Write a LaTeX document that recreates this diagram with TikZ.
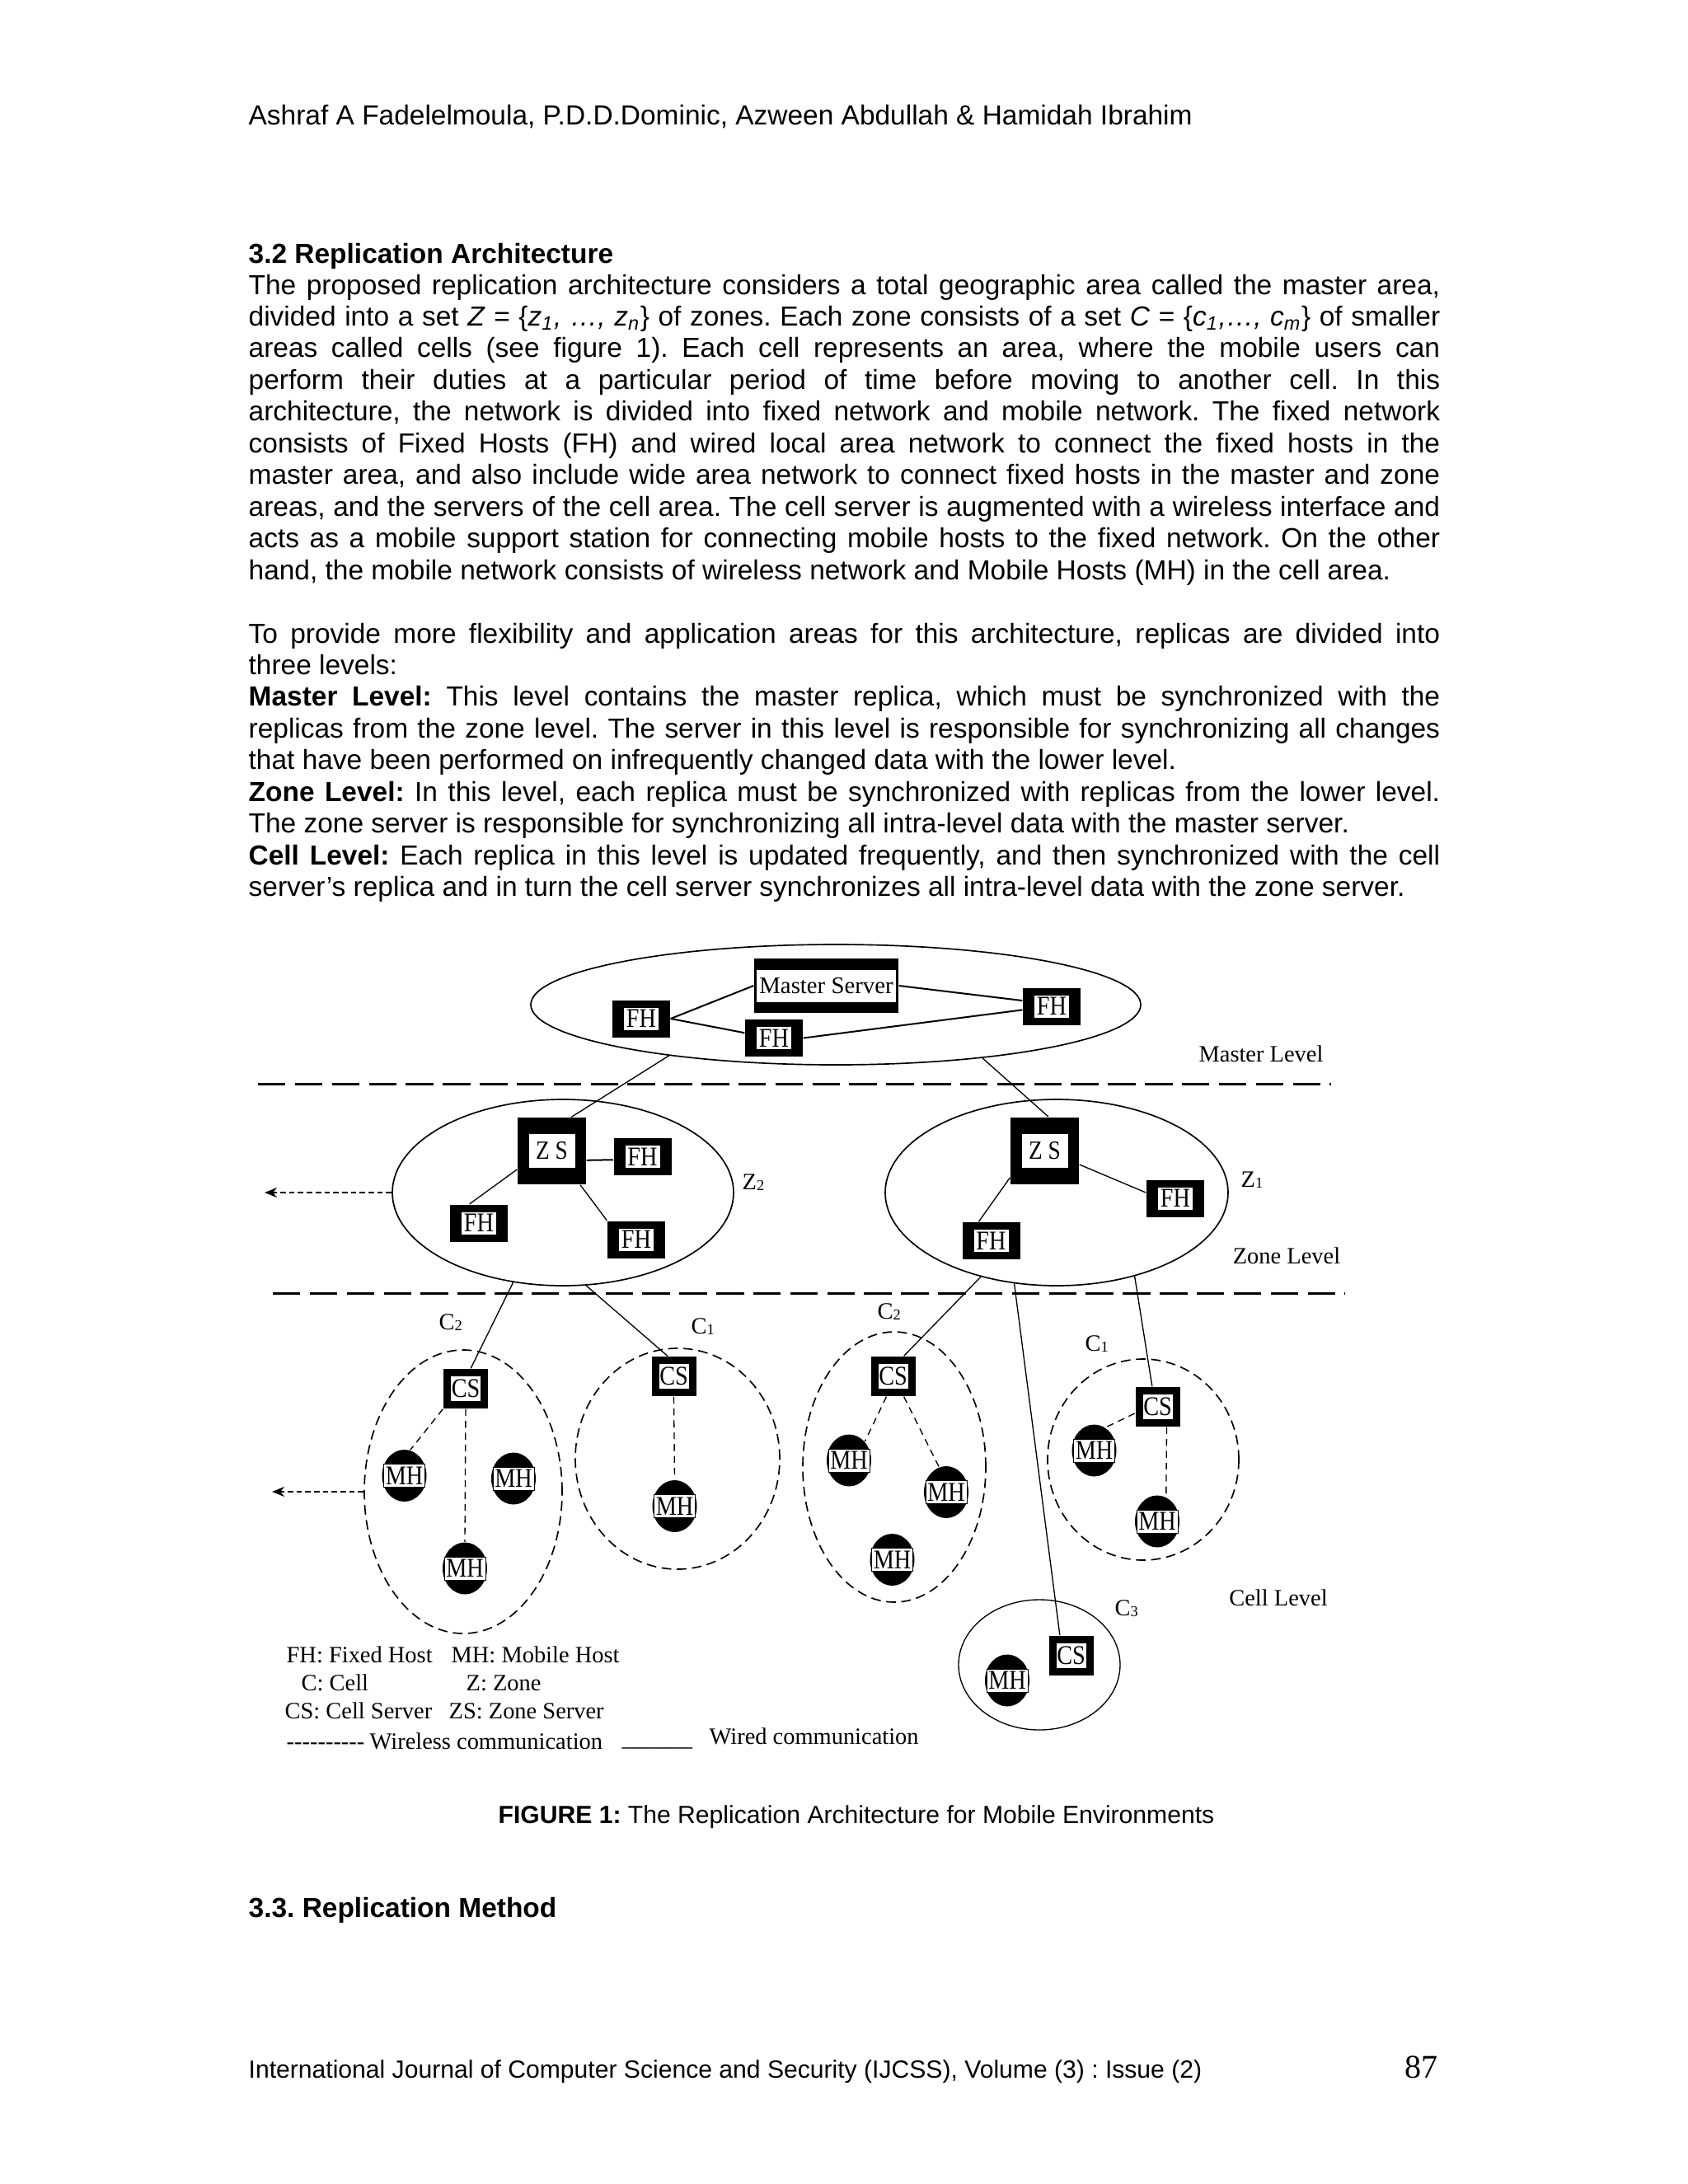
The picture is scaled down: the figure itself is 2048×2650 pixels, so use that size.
\documentclass[tikz,border=0pt]{standalone}
\usepackage{fontspec}
\usepackage{graphicx}
\setmainfont{Liberation Sans}
\newfontfamily\serifdiag{Liberation Serif}
\usetikzlibrary{shapes.geometric,arrows.meta}
\frenchspacing
\newcommand\pxu{0.29884pt}
\newcommand\cnd[1]{\scalebox{0.86}[1]{#1}}
\newcommand\sbs[1]{\raisebox{-0.5pt}{\fontsize{5.5}{6}\selectfont #1}}
\newcommand\bodyset{\fontsize{10}{11.5}\selectfont\frenchspacing\setlength{\parindent}{0pt}\setlength{\parskip}{0pt}\tolerance=10000\hbadness=10000\hyphenpenalty=10000\exhyphenpenalty=10000}
\newcommand\mkFH[3]{\node[blk={70}{45}] (#1) at (#2,#3) {}; \node[wht={42}{27}] (#1-in) at (#1) {\cnd{FH}};}
\newcommand\mkCS[3]{\node[blk={54}{48}] (#1) at (#2,#3) {}; \node[wht={36}{30}] (#1-in) at (#1) {\cnd{CS}};}
\newcommand\mkZS[3]{\node[blk={83}{81}] (#1) at (#2,#3) {}; \node[wht={56}{41}, font=\serifdiag\fontsize{9.5}{10}\selectfont] (#1-in) at (#1) {\cnd{Z S}};}
\newcommand\mkMH[3]{\node[mhout] (#1) at (#2,#3) {}; \node[mhin] (#1-in) at (#1) {\cnd{MH}};}
\tikzset{
  blk/.style 2 args={rectangle, fill=black, draw=none, inner sep=0pt, minimum width=#1*\pxu, minimum height=#2*\pxu},
  wht/.style 2 args={rectangle, fill=white, draw=none, inner sep=0pt, minimum width=#1*\pxu, minimum height=#2*\pxu, font=\serifdiag\fontsize{9.8}{10}\selectfont},
  mhout/.style={ellipse, fill=black, draw=none, inner sep=0pt, minimum width=54*\pxu, minimum height=63*\pxu},
  mhin/.style={rectangle, fill=white, draw=black, line width=0.3pt, inner sep=0pt, minimum width=50*\pxu, minimum height=28*\pxu, font=\serifdiag\fontsize{9.8}{10}\selectfont},
  zone/.style={ellipse, draw=black, line width=0.5pt, inner sep=0pt},
  cell/.style={ellipse, draw=black, line width=0.5pt, dash pattern=on 3.5pt off 2pt, inner sep=0pt},
  wired/.style={line width=0.4pt},
  wiredm/.style={line width=0.6pt},
  wireless/.style={line width=0.4pt, dash pattern=on 2.5pt off 1.8pt},
  levelline/.style={line width=0.9pt, dash pattern=on 10pt off 3.4pt},
  outarrow/.style={-{Stealth[length=4.5pt,width=3.6pt]}, line width=0.6pt, dash pattern=on 2pt off 1.2pt},
  lbl/.style={font=\serifdiag\fontsize{8.5}{9}\selectfont, inner sep=0pt, anchor=base west},
  txt/.style={font=\fontsize{10}{11.5}\selectfont, inner sep=0pt, anchor=base west}
}
\begin{document}
\begin{tikzpicture}[x=0.29884pt, y=-0.29884pt]
\useasboundingbox (0,0) rectangle (2048,2650);
\fill[white] (0,0) rectangle (2048,2650);

% ---------- page text ----------
\node[txt] (hdr) at (301,151) {Ashraf A Fadelelmoula, P.D.D.Dominic, Azween Abdullah \& Hamidah Ibrahim};
\node[txt] (sec) at (301,319) {\bfseries 3.2 Replication Architecture};
\node[anchor=base west, inner sep=0pt] (p1) at (301,357) {\begin{minipage}[t]{432pt}\bodyset
The proposed replication architecture considers a total geographic area called the master area,\linebreak
divided into a set \textit{Z} = \{\textit{z}\textsubscript{\textit{1}}\textit{, …, z}\textsubscript{\textit{n}}\} of zones. Each zone consists of a set \textit{C} = \{\textit{c}\textsubscript{\textit{1}}\textit{,…, c}\textsubscript{\textit{m}}\} of smaller\linebreak
areas called cells (see figure 1). Each cell represents an area, where the mobile users can\linebreak
perform their duties at a particular period of time before moving to another cell. In this\linebreak
architecture, the network is divided into fixed network and mobile network. The fixed network\linebreak
consists of Fixed Hosts (FH) and wired local area network to connect the fixed hosts in the\linebreak
master area, and also include wide area network to connect fixed hosts in the master and zone\linebreak
areas, and the servers of the cell area. The cell server is augmented with a wireless interface and\linebreak
acts as a mobile support station for connecting mobile hosts to the fixed network. On the other\linebreak
hand, the mobile network consists of wireless network and Mobile Hosts (MH) in the cell area.\par
\end{minipage}};
\node[anchor=base west, inner sep=0pt] (p2) at (301,780) {\begin{minipage}[t]{432pt}\bodyset
To provide more flexibility and application areas for this architecture, replicas are divided into\linebreak
three levels:\par
\textbf{Master Level:} This level contains the master replica, which must be synchronized with the\linebreak
replicas from the zone level. The server in this level is responsible for synchronizing all changes\linebreak
that have been performed on infrequently changed data with the lower level.\par
\textbf{Zone Level:} In this level, each replica must be synchronized with replicas from the lower level.\linebreak
The zone server is responsible for synchronizing all intra-level data with the master server.\par
\textbf{Cell Level:} Each replica in this level is updated frequently, and then synchronized with the cell\linebreak
server’s replica and in turn the cell server synchronizes all intra-level data with the zone server.\par
\end{minipage}};
\node[anchor=base, inner sep=0pt, font=\fontsize{9}{10}\selectfont] (cap) at (1039,2212) {\textbf{FIGURE 1:} The Replication Architecture for Mobile Environments};
\node[txt] (sec2) at (301,2326) {\bfseries 3.3. Replication Method};
\node[txt, font=\fontsize{9}{10}\selectfont] (foot) at (301,2521) {International Journal of Computer Science and Security (IJCSS), Volume (3) : Issue (2)};
\node[anchor=base east, inner sep=0pt, font=\serifdiag\fontsize{12}{13}\selectfont] (pg) at (1745,2521) {87};

% ---------- ellipses ----------
\node[zone, minimum width=740*\pxu, minimum height=146*\pxu] (mst) at (1014,1219) {};
\node[zone, minimum width=414*\pxu, minimum height=226*\pxu] (z2) at (683,1447) {};
\node[zone, minimum width=416*\pxu, minimum height=226*\pxu] (z1) at (1282,1447) {};
\node[cell, minimum width=240*\pxu, minimum height=344*\pxu] (ce1) at (562,1810) {};
\node[cell, minimum width=248*\pxu, minimum height=268*\pxu] (ce2) at (822,1770) {};
\node[cell, minimum width=222*\pxu, minimum height=328*\pxu] (ce3) at (1085,1780) {};
\node[cell, minimum width=232*\pxu, minimum height=244*\pxu] (ce4) at (1387,1771) {};
\node[zone, line width=0.4pt, minimum width=196*\pxu, minimum height=158*\pxu] (ce5) at (1261,2020) {};

% ---------- master level ----------
\node[blk={175}{66}] (ms) at (1002.5,1196) {};
\node[wht={169}{39}, font=\serifdiag\fontsize{8.6}{10}\selectfont] (ms-in) at (ms) {Master Server};
\mkFH{mfa}{778}{1236}
\mkFH{mfb}{939}{1259.5}
\mkFH{mfc}{1276}{1221}

% ---------- zone level ----------
\mkZS{zs2}{669.5}{1396.5}
\mkZS{zs1}{1267.5}{1396}
\mkFH{zfa}{779.5}{1403.5}
\mkFH{zfb}{581}{1484}
\mkFH{zfc}{772}{1504}
\mkFH{zfd}{1426}{1454}
\mkFH{zfe}{1202.5}{1505.5}

% ---------- cell level ----------
\mkCS{cs1}{565}{1685}
\mkCS{cs2}{817.5}{1670}
\mkCS{cs3}{1083.5}{1670}
\mkCS{cs4}{1404.5}{1707}
\mkCS{cs5}{1299.5}{2008.5}
\mkMH{m1a}{490.5}{1790.5}
\mkMH{m1b}{623}{1794}
\mkMH{m1c}{564}{1903}
\mkMH{m2}{818.5}{1827.5}
\mkMH{m3a}{1030}{1772}
\mkMH{m3b}{1148}{1810.5}
\mkMH{m3c}{1082.5}{1892.5}
\mkMH{m4a}{1327.5}{1760}
\mkMH{m4b}{1404}{1846}
\mkMH{m5}{1222}{2039}

% ---------- connectors ----------
\draw[wiredm] (mfa.east) -- (ms.west);
\draw[wiredm] (mfa.east) -- (mfb.170);
\draw[wiredm] (ms.east) -- (mfc.169);
\draw[wiredm] (mfb.east) -- (mfc.187);
\draw[wired] (mst.197) -- (zs2.60);
\draw[wired] (mst.340) -- (zs1.84);
\draw[wiredm] (zs2.-15) -- (zfa.186);
\draw[wired] (zs2.208) -- (zfb.116);
\draw[wired] (zs2.-50) -- (zfc.north west);
\draw[wired] (zs1.-22) -- (zfd.169);
\draw[wired] (zs1.218) -- (zfe.123);
\draw[wired] (z2.241) -- (cs1.76);
\draw[wired] (z2.284) -- (cs2.107);
\draw[wired] (z1.228) -- (cs3.62);
\draw[wired] (z1.245) -- (cs5.119);
\draw[wired] (z1.313) -- (cs4.105);
\draw[wireless] (cs1.south) -- (m1c.north);
\draw[wireless] (cs1.south west) -- (m1a.77);
\draw[wireless] (cs2.south) -- (m2.north);
\draw[wireless] (cs3.252) -- (m3a.50);
\draw[wireless] (cs3.298) -- (m3b.106);
\draw[wireless] (cs4.196) -- (m4a.64);
\draw[wireless] (cs4.-66) -- (m4b.70);

% ---------- level separators and outgoing arrows ----------
\coordinate (l1a) at (313,1315);
\coordinate (l1b) at (1615,1315);
\coordinate (l2a) at (331,1569);
\coordinate (l2b) at (1632,1569);
\draw[levelline] (l1a) -- (l1b);
\draw[levelline] (l2a) -- (l2b);
\coordinate (ar1) at (321,1447);
\coordinate (ar2) at (330,1810);
\draw[outarrow] (z2.west) -- (ar1);
\draw[outarrow] (ce1.west) -- (ar2);

% ---------- labels ----------
\node[lbl, anchor=base] (lvm) at (1530,1288) {Master Level};
\node[lbl, anchor=base] (lvz) at (1561,1533) {Zone Level};
\node[lbl, anchor=base] (lvc) at (1551,1948) {Cell Level};
\node[lbl] (lz2) at (900,1443) {Z\sbs{2}};
\node[lbl] (lz1) at (1505,1440) {Z\sbs{1}};
\node[lbl] (lc2a) at (532,1613) {C\sbs{2}};
\node[lbl] (lc1a) at (838,1618) {C\sbs{1}};
\node[lbl] (lc2b) at (1064,1600) {C\sbs{2}};
\node[lbl] (lc1b) at (1316,1639) {C\sbs{1}};
\node[lbl] (lc3) at (1352,1960) {C\sbs{3}};

% ---------- legend ----------
\node[lbl] (lg1) at (347,2017) {FH: Fixed Host};
\node[lbl] (lg2) at (547,2017) {MH: Mobile Host};
\node[lbl] (lg3) at (365,2051) {C: Cell};
\node[lbl] (lg4) at (565,2051) {Z: Zone};
\node[lbl] (lg5) at (345,2085) {CS: Cell Server};
\node[lbl] (lg6) at (544,2085) {ZS: Zone Server};
\node[lbl] (lg7) at (347,2122) {-{}-{}-{}-{}-{}-{}-{}-{}-{}-};
\node[lbl] (lg8) at (448,2122) {Wireless communication};
\node[lbl] (lg9) at (754,2118) {\_\_\_\_\_\_};
\node[lbl] (lg10) at (860,2116) {Wired communication};
\end{tikzpicture}
\end{document}
